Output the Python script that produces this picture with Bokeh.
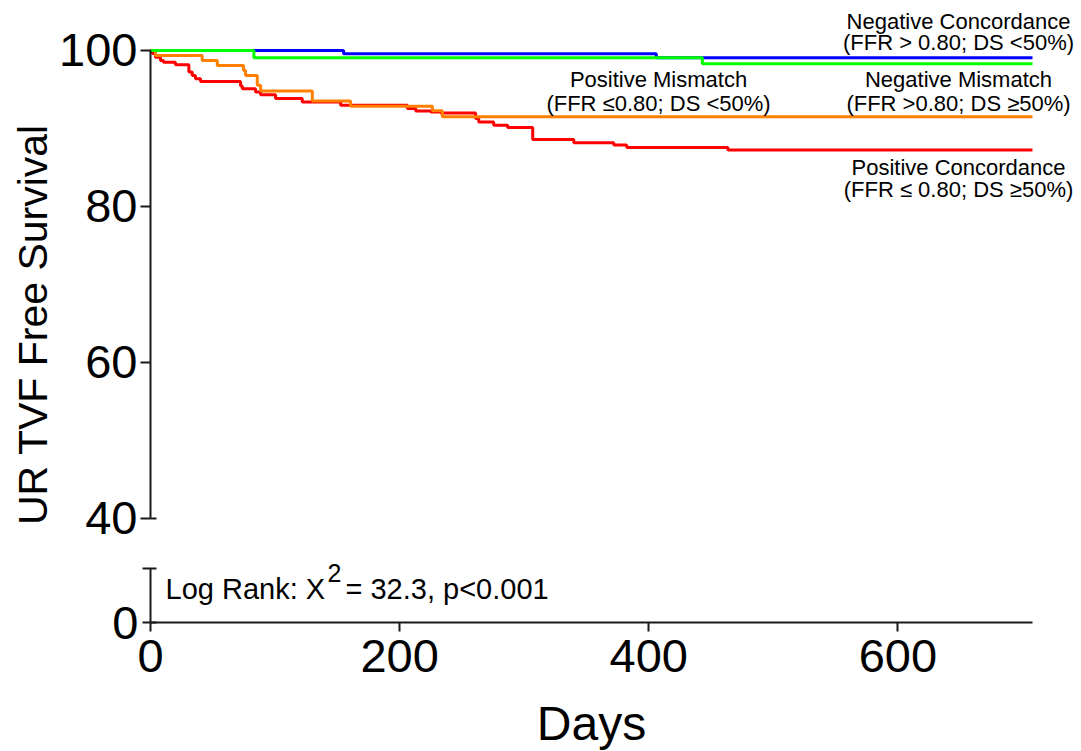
from bokeh.plotting import figure
from bokeh.models import Range1d, FixedTicker, Label, LinearAxis
from bokeh.embed import file_html
from bokeh.resources import INLINE

# ---- data ----
pc_days = [0, 1.6, 4, 8, 10.4, 20, 30.8, 33.5, 36.1, 40.2, 72.3, 73.7, 84.3, 88.4, 100.4,
           121.8, 152.6, 206.2, 212.9, 225, 233, 261, 263.5, 275.5, 286.7, 306.8, 339.8,
           371.9, 382.3, 463.5, 708]
pc_surv = [100, 99.62, 99.15, 98.72, 98.5, 98.17, 97.23, 96.81, 96.39, 96.04, 95.44, 95.11,
           94.67, 94.34, 93.83, 93.40, 92.98, 92.55, 92.25, 92.12, 92.0, 91.28, 90.84, 90.42,
           90.13, 88.6, 88.16, 87.87, 87.57, 87.23, 87.23]
pm_days = [0, 4, 41.5, 53.6, 74.7, 76.3, 85.7, 88.4, 129.9, 160.6, 226.3, 234.3, 708]
pm_surv = [100, 99.36, 98.72, 98.08, 97.45, 96.81, 95.53, 94.80, 93.53, 92.85, 92.27, 91.5, 91.5]
nc_days = [0, 155, 406, 708]
nc_surv = [100, 99.58, 99.07, 99.07]
nm_days = [0, 83, 443, 708]
nm_surv = [100, 99.06, 98.3, 98.3]

x_ticks = [0, 200, 400, 600]
y_ticks = [40, 60, 80, 100]
low_ticks = [0, 6.92]
x_max = 708

group_lines = [
    "Negative Concordance", "(FFR > 0.80; DS <50%)",
    "Negative Mismatch", "(FFR >0.80; DS \u226550%)",
    "Positive Mismatch", "(FFR \u22640.80; DS <50%)",
    "Positive Concordance", "(FFR \u2264 0.80; DS \u226550%)",
]
group_x = [648.6, 648.6, 648.6, 648.6, 407.8, 407.8, 648.6, 648.6]
group_y = [103.77, 101.05, 96.31, 93.23, 96.31, 93.23, 84.96, 82.14]

FONT = "Liberation Sans"
TICK_FS = "47px"
AX_COL = "#1a1a1a"

p = figure(width=1081, height=751, title=None,
           x_range=Range1d(-120.41, 747.34), y_range=Range1d(10.128, 106.41),
           output_backend="svg", toolbar_location=None,
           x_axis_location=None, y_axis_location=None,
           min_border=0, min_border_left=0, min_border_right=0,
           min_border_top=0, min_border_bottom=0)
p.extra_y_ranges = {"low": Range1d(-16.538, 79.744)}
p.outline_line_color = None
p.grid.visible = False


def style(ax, tick_out, tick_in, standoff):
    ax.minor_tick_line_color = None
    ax.major_tick_out = tick_out
    ax.major_tick_in = tick_in
    ax.major_label_standoff = standoff
    ax.axis_line_width = 2
    ax.major_tick_line_width = 2
    ax.axis_line_color = AX_COL
    ax.major_tick_line_color = AX_COL
    ax.major_label_text_font = FONT
    ax.major_label_text_font_size = TICK_FS
    ax.major_label_text_color = "black"


yax = LinearAxis(fixed_location=0, ticker=FixedTicker(ticks=y_ticks), bounds=(40, 100))
style(yax, 10, 0, 3)
p.add_layout(yax, "left")

# end cap of the upper segment (tick crossing the axis at its lower end)
cap = LinearAxis(fixed_location=0, ticker=FixedTicker(ticks=[y_ticks[0]]), bounds=(40, 100))
style(cap, 0, 6, 3)
cap.axis_line_color = None
cap.major_label_text_color = None
p.add_layout(cap, "left")

lax = LinearAxis(fixed_location=0, y_range_name="low", ticker=FixedTicker(ticks=low_ticks),
                 bounds=(low_ticks[0], low_ticks[-1]))
lax.major_label_overrides = {low_ticks[-1]: ""}
style(lax, 8, 6, 4)
p.add_layout(lax, "left")

xax = LinearAxis(fixed_location=26.667, ticker=FixedTicker(ticks=x_ticks), bounds=(0, x_max))
style(xax, 9, 0, 9)
p.add_layout(xax, "below")

p.step(nc_days, nc_surv, mode="after", line_color="#0000FF", line_width=3)
p.step(pc_days, pc_surv, mode="after", line_color="#FF0000", line_width=3)
p.step(pm_days, pm_surv, mode="after", line_color="#FF8000", line_width=3)
p.step(nm_days, nm_surv, mode="after", line_color="#00FF00", line_width=3)

for t, gx, gy in zip(group_lines, group_x, group_y):
    p.add_layout(Label(x=gx, y=gy, text=t, text_align="center", text_baseline="alphabetic",
                       text_font=FONT, text_font_size="22px", text_color="black"))

p.add_layout(Label(x=-94.0, y=64.87, text="UR TVF Free Survival", angle=1.5708,
                   text_align="center", text_baseline="middle",
                   text_font=FONT, text_font_size="41px", text_color="black"))

p.add_layout(Label(x=354, y=13.69, text="Days", text_align="center", text_baseline="alphabetic",
                   text_font=FONT, text_font_size="48px", text_color="black"))

p.add_layout(Label(x=12.04, y=30.95, text="Log Rank: X", text_align="left", text_baseline="alphabetic",
                   text_font=FONT, text_font_size="29px", text_color="black"))
p.add_layout(Label(x=142.1, y=32.95, text="2", text_align="left", text_baseline="alphabetic",
                   text_font=FONT, text_font_size="25px", text_color="black"))
p.add_layout(Label(x=156.5, y=30.95, text="= 32.3, p<0.001", text_align="left", text_baseline="alphabetic",
                   text_font=FONT, text_font_size="29px", text_color="black"))

open("out.html", "w").write(file_html(p, INLINE))
